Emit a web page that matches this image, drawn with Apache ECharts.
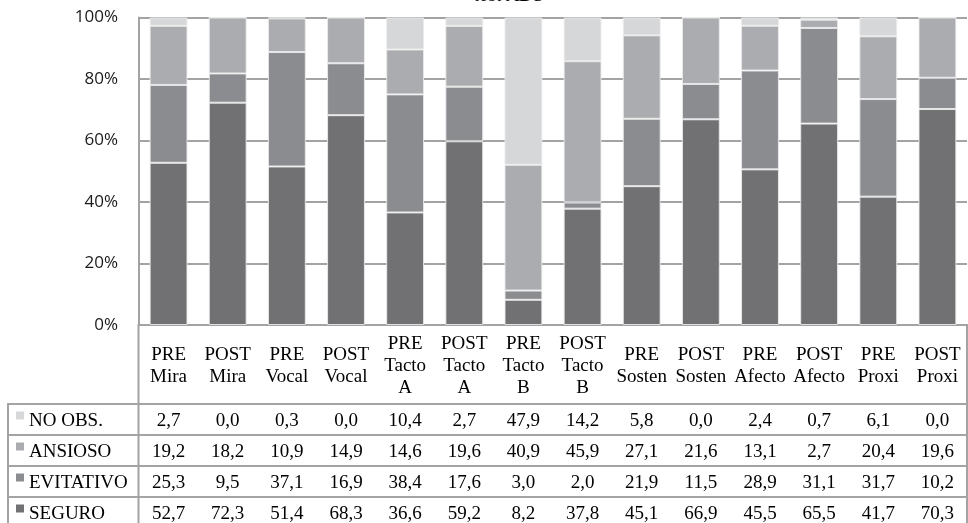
<!DOCTYPE html>
<html>
<head>
<meta charset="utf-8">
<script src="https://cdn.jsdelivr.net/npm/echarts@6/dist/echarts.min.js"></script>
<style>
html,body{margin:0;padding:0;background:#fff;}
#chart{width:968px;height:523px;}
</style>
</head>
<body>
<div id="chart"></div>
<script>
const categories = ['PRE\nMira','POST\nMira','PRE\nVocal','POST\nVocal','PRE\nTacto\nA','POST\nTacto\nA','PRE\nTacto\nB','POST\nTacto\nB','PRE\nSosten','POST\nSosten','PRE\nAfecto','POST\nAfecto','PRE\nProxi','POST\nProxi'];
const noObs     = [2.7, 0.0, 0.3, 0.0, 10.4, 2.7, 47.9, 14.2, 5.8, 0.0, 2.4, 0.7, 6.1, 0.0];
const ansioso   = [19.2, 18.2, 10.9, 14.9, 14.6, 19.6, 40.9, 45.9, 27.1, 21.6, 13.1, 2.7, 20.4, 19.6];
const evitativo = [25.3, 9.5, 37.1, 16.9, 38.4, 17.6, 3.0, 2.0, 21.9, 11.5, 28.9, 31.1, 31.7, 10.2];
const seguro    = [52.7, 72.3, 51.4, 68.3, 36.6, 59.2, 8.2, 37.8, 45.1, 66.9, 45.5, 65.5, 41.7, 70.3];
const seriesNames = ['NO OBS.', 'ANSIOSO', 'EVITATIVO', 'SEGURO'];
const yTicks = [0, 20, 40, 60, 80, 100];
const title = 'test ADS';

const colors = {'NO OBS.':'#d6d7d9','ANSIOSO':'#aaacaf','EVITATIVO':'#8a8c90','SEGURO':'#717174'};
const rowsData = {'NO OBS.':noObs,'ANSIOSO':ansioso,'EVITATIVO':evitativo,'SEGURO':seguro};
const totals = categories.map((c,i)=>noObs[i]+ansioso[i]+evitativo[i]+seguro[i]);
const pct = arr => arr.map((v,i)=>v/totals[i]*100);

const chart = echarts.init(document.getElementById('chart'));
const lineCol = '#a3a3a3';
const stackOrder = ['SEGURO','EVITATIVO','ANSIOSO','NO OBS.'];

chart.setOption({
  animation:false,
  grid:{left:139,right:1,top:17.5,bottom:198,containLabel:false},
  xAxis:{type:'category',data:categories,
    axisLine:{show:true,lineStyle:{color:lineCol,width:2}},
    axisTick:{show:false},
    axisLabel:{interval:0,fontFamily:'Liberation Serif',fontSize:19,lineHeight:22,color:'#000',
      verticalAlign:'middle',margin:41,align:'center'}
  },
  yAxis:{type:'value',min:yTicks[0],max:yTicks[yTicks.length-1],interval:yTicks[1]-yTicks[0],
    axisLine:{show:true,lineStyle:{color:lineCol,width:2}},
    axisTick:{show:false},
    splitLine:{lineStyle:{color:lineCol,width:2}},
    axisLabel:{formatter:'{value}%',fontFamily:'Open Sans',fontSize:17,color:'#1a1a1a',margin:21}
  },
  series: stackOrder.map(n=>({
    name:n,type:'bar',stack:'t',barCategoryGap:'36%',
    data:pct(rowsData[n]),
    itemStyle:{color:colors[n],borderColor:'rgba(235,235,235,0.9)',borderWidth:1}
  }))
});

// Data table
const rowTops = [404, 435, 466, 497, 528];
const graphics = [];
const L = 8, R = 967, axisX = 138.5;
rowTops.forEach(y=>{
  if (y < 523) graphics.push({type:'line',shape:{x1:L,y1:y,x2:R,y2:y},style:{stroke:lineCol,lineWidth:2}});
});
graphics.push({type:'line',shape:{x1:axisX,y1:324,x2:axisX,y2:523},style:{stroke:lineCol,lineWidth:2}});
graphics.push({type:'line',shape:{x1:L,y1:403,x2:L,y2:523},style:{stroke:lineCol,lineWidth:2}});
graphics.push({type:'line',shape:{x1:R,y1:324,x2:R,y2:523},style:{stroke:lineCol,lineWidth:2}});

seriesNames.forEach((n,r)=>{
  const cy = (rowTops[r]+rowTops[r+1])/2;
  graphics.push({type:'rect',shape:{x:16,y:cy-8,width:8,height:8},style:{fill:colors[n]}});
  graphics.push({type:'text',x:29,y:cy+2,style:{text:n,font:'19px "Liberation Serif"',fill:'#000',verticalAlign:'middle',align:'left'}});
  rowsData[n].forEach((v,i)=>{
    const px = chart.convertToPixel({xAxisIndex:0}, i);
    graphics.push({type:'text',x:px,y:cy+2,style:{text:v.toFixed(1).replace('.',','),font:'19px "Liberation Serif"',fill:'#000',align:'center',verticalAlign:'middle'}});
  });
});
graphics.push({type:'text',x:509,y:-4,style:{text:title,font:'italic 20px "Liberation Serif"',fill:'#000',align:'center',verticalAlign:'middle'}});

chart.setOption({graphic:graphics});
</script>
</body>
</html>
